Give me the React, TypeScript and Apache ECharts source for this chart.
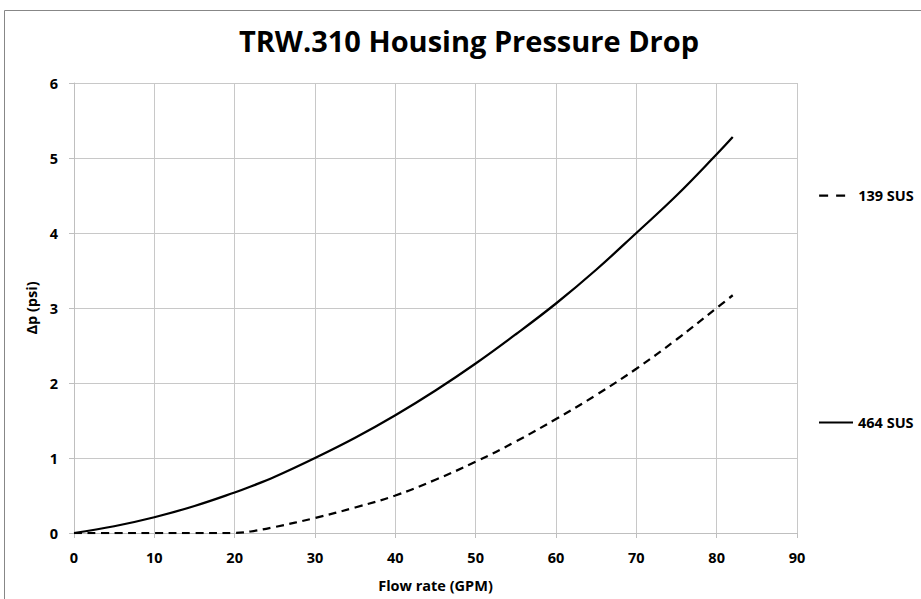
import React, { useEffect, useRef } from "react";
import * as echarts from "echarts";

const flowRate = [0, 5, 10, 15, 20, 22, 25, 30, 35, 40, 45, 50, 55, 60, 65, 70, 75, 80, 82];
const sus139 = [0, 0, 0, 0, 0, 0.02, 0.08, 0.2, 0.34, 0.5, 0.71, 0.95, 1.22, 1.52, 1.84, 2.19, 2.58, 3.0, 3.17];
const sus464 = [0, 0.09, 0.21, 0.36, 0.54, 0.62, 0.75, 1.0, 1.27, 1.57, 1.9, 2.26, 2.65, 3.06, 3.51, 4.0, 4.5, 5.05, 5.28];
const seriesNames = ["139 SUS", "464 SUS"];
const xTicks = { min: 0, max: 90, interval: 10 };
const yTicks = { min: 0, max: 6, interval: 1 };

const FONT = "Open Sans";
const LABEL = { fontFamily: FONT, fontWeight: "bold", fontSize: 14.5, color: "#000" };

export default function App() {
  const ref = useRef<HTMLDivElement>(null);
  useEffect(() => {
    if (!ref.current) return;
    const chart = echarts.init(ref.current, null, { renderer: "svg" });
    const toPairs = (ys: number[]) => flowRate.map((x, i) => [x, ys[i]]);
    const legendBase = {
      left: 813,
      itemWidth: 34,
      itemHeight: 14,
      itemGap: 5,
      itemStyle: { color: "rgba(0,0,0,0)", borderColor: "rgba(0,0,0,0)", borderWidth: 0, opacity: 0 },
      textStyle: LABEL,
    };
    chart.setOption({
      animation: false,
      backgroundColor: "#ffffff",
      title: {
        text: "TRW.310 Housing Pressure Drop",
        left: 464,
        top: 21,
        textAlign: "center",
        textStyle: { fontFamily: FONT, fontWeight: "bold", fontSize: 29, color: "#000" },
      },
      graphic: [
        {
          type: "rect",
          shape: { x: 4.5, y: 10.5, width: 1000, height: 1000 },
          style: { fill: "none", stroke: "#878787", lineWidth: 1 },
          silent: true,
          z: -1,
        },
      ],
      legend: [
        {
          ...legendBase,
          data: [seriesNames[0]],
          top: 183,
          lineStyle: { type: [9, 8], width: 2.25, color: "#000" },
        },
        { ...legendBase, data: [seriesNames[1]], top: 410 },
      ],
      grid: { left: 74, right: 124, top: 83, bottom: 66, containLabel: false },
      xAxis: {
        type: "value",
        min: xTicks.min,
        max: xTicks.max,
        interval: xTicks.interval,
        name: "Flow rate (GPM)",
        nameLocation: "middle",
        nameGap: 45,
        nameTextStyle: LABEL,
        axisLine: { show: true, lineStyle: { color: "#bfbfbf", width: 1 } },
        axisTick: { show: true, length: 5, lineStyle: { color: "#bfbfbf" } },
        axisLabel: { margin: 17, ...LABEL },
        splitLine: { show: true, lineStyle: { color: "#c8c8c8", width: 1 } },
      },
      yAxis: {
        type: "value",
        min: yTicks.min,
        max: yTicks.max,
        interval: yTicks.interval,
        name: "Δp (psi)",
        nameLocation: "middle",
        nameGap: 27,
        nameTextStyle: LABEL,
        axisLine: { show: true, lineStyle: { color: "#bfbfbf", width: 1 } },
        axisTick: { show: true, length: 5, lineStyle: { color: "#bfbfbf" } },
        axisLabel: { margin: 16, ...LABEL },
        splitLine: { show: true, lineStyle: { color: "#c8c8c8", width: 1 } },
      },
      series: [
        {
          name: seriesNames[0],
          type: "line",
          data: toPairs(sus139),
          symbol: "none",
          smooth: 0.4,
          lineStyle: { color: "#000", width: 2.25, type: [8, 5.5] },
          itemStyle: { color: "#000" },
        },
        {
          name: seriesNames[1],
          type: "line",
          data: toPairs(sus464),
          symbol: "none",
          smooth: 0.4,
          lineStyle: { color: "#000", width: 2.25 },
          itemStyle: { color: "#000" },
        },
      ],
    });
    return () => chart.dispose();
  }, []);
  return (
    <div
      ref={ref}
      style={{ position: "fixed", left: 0, top: 0, width: 921, height: 599 }}
    />
  );
}
